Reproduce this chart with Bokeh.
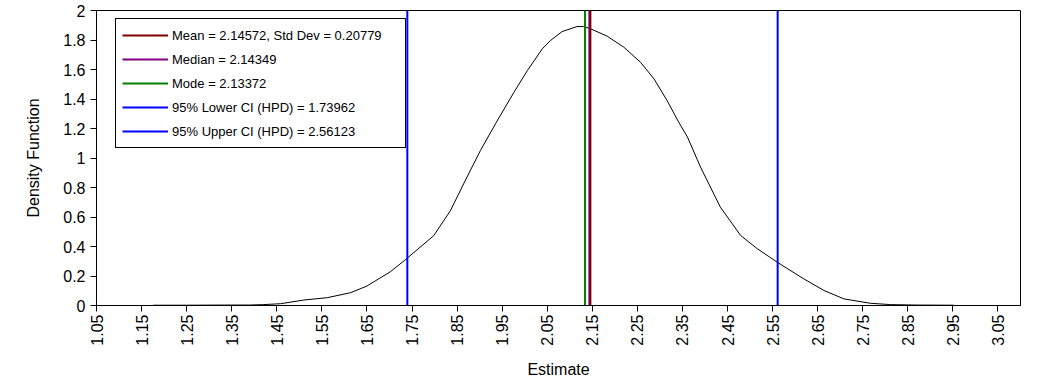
import math
from bokeh.plotting import figure
from bokeh.models import Range1d, FixedTicker, CustomJSTickFormatter, Legend, LegendItem
from bokeh.embed import file_html
from bokeh.resources import INLINE

# ---- data ----
est_x = [1.176, 1.25, 1.33, 1.39, 1.42, 1.458, 1.51, 1.562, 1.614, 1.65, 1.702, 1.734,
         1.798, 1.835, 1.872, 1.902, 1.935, 1.976, 2.006, 2.039, 2.057, 2.083, 2.116,
         2.131, 2.146, 2.183, 2.220, 2.257, 2.287, 2.316, 2.342, 2.361, 2.39, 2.434,
         2.479, 2.516, 2.56, 2.619, 2.664, 2.708, 2.767, 2.812, 2.87, 2.952]
density = [0.002, 0.002, 0.003, 0.003, 0.006, 0.012, 0.037, 0.053, 0.087, 0.132, 0.229, 0.307,
           0.473, 0.642, 0.871, 1.052, 1.231, 1.445, 1.593, 1.740, 1.796, 1.857, 1.891,
           1.891, 1.876, 1.826, 1.751, 1.649, 1.536, 1.389, 1.241, 1.143, 0.939, 0.667,
           0.475, 0.385, 0.294, 0.181, 0.102, 0.045, 0.015, 0.006, 0.003, 0.002]

stat_labels = ["Mean = 2.14572, Std Dev = 0.20779", "Median = 2.14349", "Mode = 2.13372",
               "95% Lower CI (HPD) = 1.73962", "95% Upper CI (HPD) = 2.56123"]
stat_values = [2.14572, 2.14349, 2.13372, 1.73962, 2.56123]
stat_colors = ["#800000", "#800080", "#008000", "#0000FF", "#0000FF"]

x_ticks = [1.05, 1.15, 1.25, 1.35, 1.45, 1.55, 1.65, 1.75, 1.85, 1.95, 2.05,
           2.15, 2.25, 2.35, 2.45, 2.55, 2.65, 2.75, 2.85, 2.95, 3.05]
y_ticks = [0, 0.2, 0.4, 0.6, 0.8, 1, 1.2, 1.4, 1.6, 1.8, 2]
x_min, x_max = 1.05, 3.10
y_min, y_max = 0, 2

FONT = "Liberation Sans"

p = figure(width=1048, height=380, x_range=Range1d(x_min, x_max), y_range=Range1d(y_min, y_max),
           output_backend="svg", toolbar_location=None,
           min_border_left=96, min_border_right=28, min_border_top=10, min_border_bottom=75)

p.xgrid.visible = False
p.ygrid.visible = False
p.outline_line_color = "black"
p.outline_line_alpha = 1
p.outline_line_width = 1
p.background_fill_color = "white"
p.border_fill_color = "white"

p.line(est_x, density, line_color="black", line_width=1)

order = [2, 1, 0, 3, 4]
rmap = {}
for i in order:
    r = p.line([stat_values[i], stat_values[i]], [y_min, y_max], line_color=stat_colors[i], line_width=2)
    rmap[i] = r

items = [LegendItem(label=stat_labels[i], renderers=[rmap[i]]) for i in range(len(stat_labels))]
legend = Legend(items=items, location=(19, 157))
legend.label_text_font = FONT
legend.label_text_font_size = "13px"
legend.label_text_color = "black"
legend.glyph_width = 46
legend.glyph_height = 20
legend.label_height = 20
legend.label_width = 227
legend.label_standoff = 4
legend.spacing = 4
legend.padding = 6
legend.margin = 0
legend.border_line_color = "black"
legend.border_line_width = 1
legend.border_line_alpha = 1
legend.background_fill_color = "white"
legend.background_fill_alpha = 1
p.add_layout(legend, "center")

p.xaxis.ticker = FixedTicker(ticks=x_ticks)
p.yaxis.ticker = FixedTicker(ticks=y_ticks)
p.xaxis.formatter = CustomJSTickFormatter(code="return tick.toFixed(2);")
p.yaxis.formatter = CustomJSTickFormatter(code="return String(Math.round(tick*10)/10);")
p.xaxis.major_label_orientation = math.pi / 2

for ax in (p.xaxis[0], p.yaxis[0]):
    ax.axis_line_color = "black"
    ax.major_tick_line_color = "black"
    ax.major_tick_out = 6
    ax.major_tick_in = 0
    ax.minor_tick_line_color = None
    ax.major_label_text_font = FONT
    ax.major_label_text_font_size = "16px"
    ax.major_label_text_color = "black"
    ax.axis_label_text_font = FONT
    ax.axis_label_text_font_size = "16px"
    ax.axis_label_text_font_style = "normal"
    ax.axis_label_text_color = "black"

p.xaxis.axis_label = "Estimate"
p.yaxis.axis_label = "Density Function"
p.xaxis.major_label_standoff = 3
p.xaxis.axis_label_standoff = 12
p.yaxis.major_label_standoff = 5
p.yaxis.axis_label_standoff = 18

open("out.html", "w").write(file_html(p, INLINE))
